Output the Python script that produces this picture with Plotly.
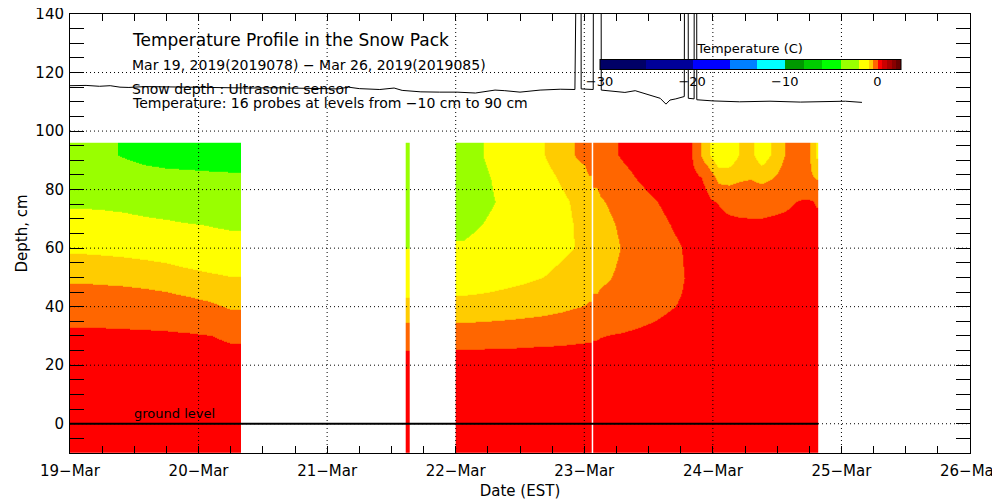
import plotly.graph_objects as go

# depth of the temperature rows (cm), bottom to top
probe_depth = [-10, 0, 10, 20, 30, 40, 50, 60, 68, 76, 84, 92]

# block 1: 19-Mar 00:00 .. 20-Mar 08:00 (bin edges, 4 h)
seg1_time = ["2019-03-19 00:00", "2019-03-19 04:00", "2019-03-19 08:00", "2019-03-19 12:00",
             "2019-03-19 16:00", "2019-03-19 20:00", "2019-03-20 00:00", "2019-03-20 04:00",
             "2019-03-20 08:00"]
seg1_temp = [
    [0.35, 0.35, 0.35, 0.35, 0.35, 0.35, 0.35, 0.35],
    [0.35, 0.35, 0.35, 0.35, 0.35, 0.35, 0.35, 0.35],
    [0.33, 0.33, 0.33, 0.33, 0.33, 0.33, 0.33, 0.33],
    [0.30, 0.30, 0.29, 0.28, 0.27, 0.26, 0.24, 0.20],
    [0.09, 0.09, 0.08, 0.07, 0.06, 0.04, 0.01, -0.07],
    [-0.22, -0.23, -0.24, -0.25, -0.28, -0.33, -0.41, -0.54],
    [-0.56, -0.58, -0.60, -0.64, -0.70, -0.80, -0.89, -0.97],
    [-1.10, -1.13, -1.17, -1.23, -1.30, -1.41, -1.50, -1.58],
    [-1.60, -1.62, -1.65, -1.73, -1.81, -1.93, -2.03, -2.13],
    [-2.15, -2.19, -2.28, -2.45, -2.61, -2.78, -2.89, -2.96],
    [-2.98, -3.05, -3.26, -3.44, -3.59, -3.67, -3.74, -3.79],
    [-3.80, -3.75, -4.10, -4.43, -4.56, -4.57, -4.60, -4.62],
]

# block 2: short record on 21-Mar afternoon
seg2_time = ["2019-03-21 14:40", "2019-03-21 15:05", "2019-03-21 15:30"]
seg2_temp = [
    [0.35, 0.35], [0.35, 0.35], [0.35, 0.35], [0.25, 0.25],
    [-0.25, -0.25], [-0.79, -0.79], [-1.40, -1.40], [-2.02, -2.02],
    [-2.20, -2.20], [-2.40, -2.40], [-2.60, -2.60], [-2.80, -2.80],
]

# block 3a: 22-Mar 00:00 .. 23-Mar 01:20
seg3a_time = ["2019-03-22 00:00", "2019-03-22 03:00", "2019-03-22 06:00", "2019-03-22 09:00",
              "2019-03-22 12:00", "2019-03-22 15:00", "2019-03-22 18:00", "2019-03-22 21:00",
              "2019-03-23 00:00", "2019-03-23 01:20"]
seg3a_temp = [
    [0.40, 0.40, 0.40, 0.40, 0.40, 0.40, 0.40, 0.40, 0.40],
    [0.38, 0.38, 0.38, 0.38, 0.38, 0.38, 0.38, 0.38, 0.38],
    [0.35, 0.35, 0.35, 0.35, 0.35, 0.35, 0.35, 0.35, 0.35],
    [0.30, 0.30, 0.30, 0.30, 0.30, 0.30, 0.30, 0.30, 0.30],
    [-0.26, -0.25, -0.23, -0.22, -0.19, -0.17, -0.15, -0.11, -0.08],
    [-0.78, -0.76, -0.74, -0.71, -0.68, -0.64, -0.58, -0.51, -0.46],
    [-1.33, -1.28, -1.20, -1.13, -1.06, -0.99, -0.87, -0.76, -0.67],
    [-1.90, -1.77, -1.64, -1.51, -1.38, -1.25, -1.11, -0.98, -0.85],
    [-2.19, -2.02, -1.84, -1.67, -1.49, -1.32, -1.14, -0.96, -0.82],
    [-2.42, -2.20, -1.99, -1.77, -1.55, -1.33, -1.12, -0.90, -0.74],
    [-2.40, -2.16, -1.92, -1.68, -1.44, -1.19, -0.95, -0.70, -0.52],
    [-2.31, -2.05, -1.79, -1.53, -1.27, -1.01, -0.73, -0.46, -0.34],
]

# block 3b: 23-Mar 01:40 .. 24-Mar 19:40
seg3b_time = ["2019-03-23 01:40", "2019-03-23 03:00", "2019-03-23 06:00", "2019-03-23 09:00",
              "2019-03-23 12:00", "2019-03-23 15:00", "2019-03-23 18:00", "2019-03-23 20:00",
              "2019-03-23 22:00", "2019-03-24 00:00", "2019-03-24 02:00", "2019-03-24 04:00",
              "2019-03-24 06:00", "2019-03-24 08:00", "2019-03-24 10:00", "2019-03-24 12:00",
              "2019-03-24 14:00", "2019-03-24 16:00", "2019-03-24 18:00", "2019-03-24 19:00",
              "2019-03-24 19:40"]
seg3b_temp = [
    [0.40, 0.40, 0.40, 0.40, 0.40, 0.40, 0.40, 0.40, 0.40, 0.40, 0.40, 0.40, 0.40, 0.40, 0.40, 0.40, 0.40, 0.40, 0.40, 0.40],
    [0.38, 0.38, 0.38, 0.38, 0.38, 0.38, 0.38, 0.38, 0.38, 0.38, 0.38, 0.38, 0.38, 0.38, 0.38, 0.38, 0.38, 0.38, 0.38, 0.38],
    [0.35, 0.35, 0.35, 0.35, 0.35, 0.35, 0.35, 0.35, 0.35, 0.35, 0.35, 0.35, 0.35, 0.35, 0.35, 0.35, 0.35, 0.35, 0.35, 0.35],
    [0.30, 0.30, 0.30, 0.30, 0.30, 0.30, 0.30, 0.30, 0.30, 0.30, 0.30, 0.30, 0.30, 0.30, 0.30, 0.30, 0.30, 0.30, 0.30, 0.30],
    [-0.05, 0.01, 0.04, 0.08, 0.12, 0.18, 0.25, 0.25, 0.25, 0.25, 0.25, 0.25, 0.25, 0.25, 0.25, 0.25, 0.25, 0.25, 0.25, 0.25],
    [-0.41, -0.35, -0.26, -0.18, -0.10, -0.01, 0.06, 0.12, 0.17, 0.22, 0.25, 0.25, 0.25, 0.25, 0.25, 0.25, 0.25, 0.25, 0.25, 0.25],
    [-0.61, -0.52, -0.41, -0.30, -0.19, -0.08, 0.02, 0.10, 0.18, 0.25, 0.25, 0.25, 0.25, 0.25, 0.25, 0.25, 0.25, 0.25, 0.25, 0.25],
    [-0.75, -0.62, -0.46, -0.32, -0.19, -0.06, 0.05, 0.12, 0.20, 0.25, 0.25, 0.25, 0.25, 0.25, 0.25, 0.25, 0.25, 0.25, 0.25, 0.25],
    [-0.71, -0.57, -0.41, -0.26, -0.12, 0.02, 0.12, 0.18, 0.20, 0.15, 0.12, 0.10, 0.08, 0.08, 0.10, 0.12, 0.15, 0.20, 0.20, 0.15],
    [-0.62, -0.47, -0.32, -0.16, -0.01, 0.12, 0.20, 0.15, 0.06, -0.02, -0.15, -0.20, -0.20, -0.20, -0.15, -0.10, -0.02, 0.05, 0.03, -0.05],
    [-0.42, -0.29, -0.12, 0.05, 0.20, 0.25, 0.20, 0.08, -0.10, -0.65, -0.65, -0.55, -0.52, -0.60, -0.52, -0.35, -0.30, -0.35, -0.45, -0.52],
    [-0.24, -0.11, 0.07, 0.20, 0.30, 0.30, 0.35, -0.30, -0.90, -1.45, -1.40, -0.95, -0.85, -1.35, -0.95, -0.55, -0.25, -0.20, -0.70, -1.10],
]

# ultrasonic snow depth (cm); 300 = sensor error spikes
snow_time = ["2019-03-19 00:00", "2019-03-19 03:00", "2019-03-19 05:30", "2019-03-19 07:30",
             "2019-03-19 09:20", "2019-03-19 11:00", "2019-03-19 14:00", "2019-03-19 18:00",
             "2019-03-19 22:00", "2019-03-20 02:00", "2019-03-20 06:00", "2019-03-20 10:00",
             "2019-03-20 14:00", "2019-03-20 18:00", "2019-03-20 22:00", "2019-03-21 02:00",
             "2019-03-21 04:00", "2019-03-21 06:00", "2019-03-21 09:50", "2019-03-21 12:30",
             "2019-03-21 14:00", "2019-03-21 17:30", "2019-03-21 21:00", "2019-03-22 00:15",
             "2019-03-22 03:40", "2019-03-22 07:20", "2019-03-22 09:10", "2019-03-22 12:00",
             "2019-03-22 15:45", "2019-03-22 19:30", "2019-03-22 22:15", "2019-03-22 22:30",
             "2019-03-22 23:20", "2019-03-22 23:25", "2019-03-23 00:30", "2019-03-23 01:40",
             "2019-03-23 01:50", "2019-03-23 03:05", "2019-03-23 03:10", "2019-03-23 05:00",
             "2019-03-23 07:35", "2019-03-23 09:30", "2019-03-23 11:20", "2019-03-23 12:50",
             "2019-03-23 14:10", "2019-03-23 15:15", "2019-03-23 16:00", "2019-03-23 17:05",
             "2019-03-23 18:40", "2019-03-23 18:50", "2019-03-23 19:20", "2019-03-23 19:25",
             "2019-03-23 20:30", "2019-03-23 20:35", "2019-03-23 20:55", "2019-03-23 21:00",
             "2019-03-24 00:00", "2019-03-24 05:00", "2019-03-24 10:40", "2019-03-24 16:20",
             "2019-03-24 22:00", "2019-03-25 00:45", "2019-03-25 03:50"]
snow_depth = [115.5, 115.6, 115.3, 115.5, 115.0, 114.9, 115.2, 115.1,
              114.9, 115.0, 114.8, 114.7, 114.8, 114.6, 114.5, 114.4,
              115.0, 114.5, 114.2, 114.7, 113.9, 113.4, 113.3, 113.3,
              113.0, 114.0, 113.8, 113.3, 114.0, 114.3, 114.2, 300,
              300, 114.4, 114.4, 114.2, 300, 300, 114.0, 113.6,
              113.2, 113.8, 112.8, 112.0, 111.2, 109.2, 110.6, 111.0,
              111.8, 300, 300, 111.2, 111.0, 300, 300, 110.7,
              110.3, 110.0, 110.2, 109.9, 110.0, 110.2, 109.8]

# colour levels (deg C) and their colours
temp_levels = [-30, -25, -20, -16, -13, -10, -8, -6, -4, -2, -1, -0.5, 0, 0.5, 1, 1.5, 2, 2.5]
temp_colors = ["#000066", "#000099", "#0000ff", "#0080ff", "#00ffff", "#009900", "#00cc00",
               "#00ff00", "#99ff00", "#ffff00", "#ffcc00", "#ff6600", "#ff0000", "#cc0000",
               "#aa0000", "#880000", "#660000"]

day_ticks = ["2019-03-19", "2019-03-20", "2019-03-21", "2019-03-22",
             "2019-03-23", "2019-03-24", "2019-03-25", "2019-03-26"]
day_labels = ["19−Mar", "20−Mar", "21−Mar", "22−Mar", "23−Mar", "24−Mar", "25−Mar", "26−Mar"]
depth_ticks = [0, 20, 40, 60, 80, 100, 120, 140]

lo, hi = temp_levels[0], temp_levels[-1]
colorscale = []
for a, b, c in zip(temp_levels[:-1], temp_levels[1:], temp_colors):
    colorscale.append([(a - lo) / (hi - lo), c])
    colorscale.append([(b - lo) / (hi - lo), c])

FONT = "DejaVu Sans"

fig = go.Figure()
for times, temps in [(seg1_time, seg1_temp), (seg2_time, seg2_temp),
                     (seg3a_time, seg3a_temp), (seg3b_time, seg3b_temp)]:
    fig.add_trace(go.Heatmap(x=times, y=probe_depth, z=temps, coloraxis="coloraxis",
                             zsmooth="best", hoverinfo="skip"))

# ground level line across the temperature record
fig.add_trace(go.Scatter(x=[seg1_time[0], seg3b_time[-1]], y=[0, 0], mode="lines",
                         line=dict(color="black", width=2), hoverinfo="skip"))
fig.add_trace(go.Scatter(x=snow_time, y=snow_depth, mode="lines",
                         line=dict(color="black", width=1), hoverinfo="skip"))

# dotted grid drawn on top of the colour fill
grid = dict(color="black", width=1, dash="1px,3px")
shapes = [dict(type="line", xref="x", yref="paper", x0=d, x1=d, y0=0, y1=1, line=grid, layer="above")
          for d in day_ticks[1:-1]]
shapes += [dict(type="line", xref="paper", yref="y", x0=0, x1=1, y0=v, y1=v, line=grid, layer="above")
           for v in depth_ticks[:-1]]

notes = [
    ("Temperature Profile in the Snow Pack", 0.941, 17),
    ("Mar 19, 2019(2019078) − Mar 26, 2019(2019085)", 0.884, 14),
    ("Snow depth : Ultrasonic sensor", 0.829, 14),
    ("Temperature: 16 probes at levels from −10 cm to 90 cm", 0.797, 14),
]
annotations = [dict(text=t, xref="paper", yref="paper", x=0.0667, y=y, xanchor="left",
                    yanchor="middle", showarrow=False, font=dict(family=FONT, size=s, color="black"))
               for t, y, s in notes]
annotations.append(dict(text="ground level", xref="x", yref="y", x="2019-03-19 19:25", y=0,
                        yanchor="bottom", yshift=1, showarrow=False,
                        font=dict(family=FONT, size=13, color="black")))

# the page body adds an 8 px offset, so the figure is 8 px smaller than the window
fig.update_layout(
    width=992, height=492,
    margin=dict(l=62, r=30, t=6, b=47),
    paper_bgcolor="white", plot_bgcolor="white",
    showlegend=False,
    font=dict(family=FONT, size=15, color="black"),
    coloraxis=dict(
        colorscale=colorscale, cmin=lo, cmax=hi,
        colorbar=dict(
            orientation="h", x=0.7556, xanchor="center", y=0.884, yanchor="middle",
            len=301, lenmode="pixels", thickness=10, thicknessmode="pixels",
            xpad=0, ypad=0, outlinewidth=1, outlinecolor="black",
            tickvals=[-30, -20, -10, 0], ticks="", ticklen=0, tickfont=dict(size=13),
            title=dict(text="Temperature (C)", side="top", font=dict(size=13)),
        ),
    ),
    shapes=shapes,
    annotations=annotations,
    xaxis=dict(
        type="date", range=[day_ticks[0], day_ticks[-1]], automargin=False,
        tickmode="array", tickvals=day_ticks, ticktext=day_labels,
        ticks="inside", ticklen=7, tickcolor="black", ticklabeloverflow="allow",
        minor=dict(ticks="inside", dtick=6 * 3600 * 1000, ticklen=7, tickcolor="black"),
        showline=True, linecolor="black", linewidth=1, mirror="ticks",
        showgrid=False, zeroline=False, ticklabelstandoff=4,
        title=dict(text="Date (EST)", standoff=6, font=dict(size=15)),
    ),
    yaxis=dict(
        range=[-10, 140], automargin=False, tickmode="array", tickvals=depth_ticks,
        ticks="inside", ticklen=14, tickcolor="black", ticklabeloverflow="allow",
        minor=dict(ticks="inside", dtick=5, tick0=0, ticklen=14, tickcolor="black"),
        showline=True, linecolor="black", linewidth=1, mirror="ticks",
        showgrid=False, zeroline=False, ticklabelstandoff=2,
        title=dict(text="Depth, cm", standoff=4, font=dict(size=15)),
    ),
)

fig.write_html("out.html")
